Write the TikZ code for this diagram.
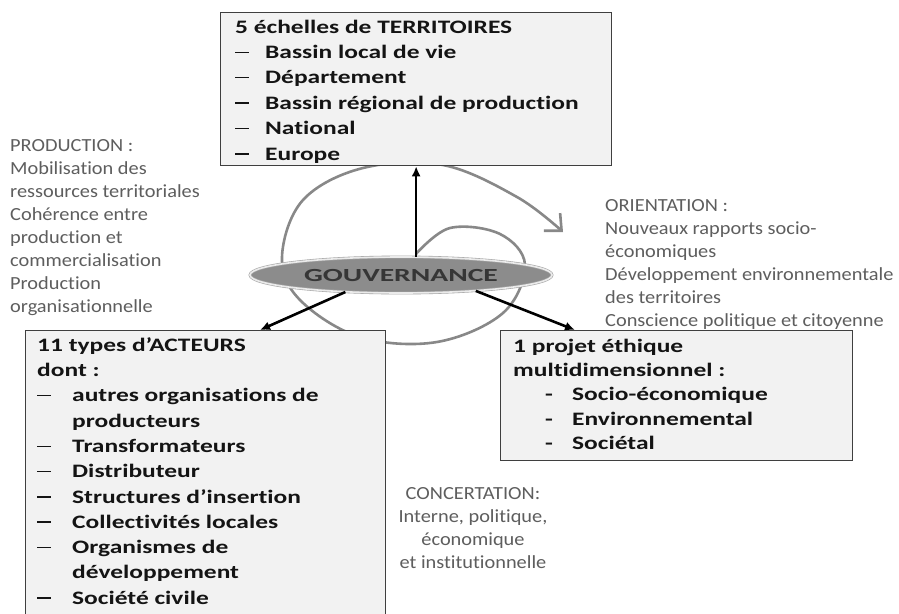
\documentclass[tikz,border=0pt]{standalone}
\usepackage{fontspec}
\setmainfont{Carlito}
\newfontfamily\boxfont[FakeStretch=1.34,Ligatures=NoCommon]{Carlito}
\newfontfamily\grayfont[FakeStretch=1.1,Ligatures=NoCommon]{Carlito}
\newfontfamily\gouvfont[FakeStretch=1.6,Ligatures=NoCommon]{Carlito}
\usetikzlibrary{arrows.meta,shapes.geometric}
\definecolor{boxfill}{HTML}{F2F2F2}
\definecolor{boxline}{HTML}{3F3F3F}
\definecolor{graytxt}{HTML}{5E5E5E}
\definecolor{spiralc}{HTML}{888888}
\definecolor{gouvfill}{HTML}{8C8C8C}
\definecolor{gouvtxt}{HTML}{363636}
\definecolor{darktxt}{HTML}{141414}
\newcommand{\dashmark}{\rule[5.5pt]{14pt}{1.4pt}}
\newcommand{\tbul}{\makebox[30pt][l]{\dashmark}}
\newcommand{\abul}{\makebox[35pt][l]{\dashmark}}
\newcommand{\aind}{\hspace*{35pt}}
\newcommand{\pbul}{\hspace*{32pt}\makebox[27pt][l]{-}}
\begin{document}
\begin{tikzpicture}[x=1pt,y=-1pt,
  box/.style={draw=boxline, fill=boxfill, line width=1.3pt, inner sep=0pt, anchor=north west},
  boxtxt/.style={anchor=north west, inner sep=0pt, align=left, text=darktxt},
  graynote/.style={inner sep=0pt, text=graytxt, font=\grayfont\fontsize{18.5}{23}\selectfont},
  arr/.style={-{Latex[length=10pt,width=9pt]}, line width=2.6pt, black},
  spiral/.style={draw=spiralc, line width=2.6pt, -{Straight Barb[length=13pt,width=24pt]}},
  gouvstyle/.style={ellipse, fill=gouvfill, draw=gray!70, double=white!92!black, double distance=1.6pt, line width=0.6pt, minimum width=302pt, minimum height=36pt, inner sep=0pt, text=gouvtxt, font=\gouvfont\bfseries\fontsize{18.5}{22}\selectfont}
]
\useasboundingbox[fill=white] (0,0) rectangle (899,613);

% spiral (behind everything)
\draw[spiral] plot[smooth, tension=0.6] coordinates {
  (416,254) (450,228) (500,234) (525,265) (503,313) (437,342) (360,337)
  (300,300) (282,257) (303,200) (363,168) (443,165) (517,197) (563,232)};

% boxes
\node[box, minimum width=391pt, minimum height=153pt] (terr) at (220,12) {};
\node[box, minimum width=360pt, minimum height=330pt] (act) at (25,330) {};
\node[box, minimum width=352pt, minimum height=130pt] (proj) at (500,330) {};

% central ellipse
\node[gouvstyle] (gouv) at (401,275) {GOUVERNANCE};

% connectors
\draw[arr] (terr.south |- gouv.north) -- (terr.south);
\draw[arr] (gouv.197) -- ([xshift=235pt]act.north west);
\draw[arr] (gouv.348) -- ([xshift=75pt]proj.north west);

% box texts
\node[boxtxt, font=\boxfont\bfseries\fontsize{19}{25.4}\selectfont] (terrtxt) at (235,15.2)
  {\strut 5 échelles de TERRITOIRES\\
   \tbul Bassin local de vie\\
   \tbul Département\\
   \tbul Bassin régional de production\\
   \tbul National\\
   \tbul Europe};

\node[boxtxt, font=\boxfont\bfseries\fontsize{19}{25.3}\selectfont] (acttxt) at (37,333.3)
  {\strut 11 types d’ACTEURS\\
   dont :\\
   \abul autres organisations de\\
   \aind producteurs\\
   \abul Transformateurs\\
   \abul Distributeur\\
   \abul Structures d’insertion\\
   \abul Collectivités locales\\
   \abul Organismes de\\
   \aind développement\\
   \abul Société civile};

\node[boxtxt, font=\boxfont\bfseries\fontsize{19}{24.3}\selectfont] (projtxt) at (513,335)
  {\strut 1 projet éthique\\
   multidimensionnel :\\
   \pbul Socio-économique\\
   \pbul Environnemental\\
   \pbul Sociétal};

% gray notes
\node[graynote, anchor=north west, align=left] (prodtxt) at (10,135)
  {\strut PRODUCTION :\\
   Mobilisation des\\
   ressources territoriales\\
   Cohérence entre\\
   production et\\
   commercialisation\\
   Production\\
   organisationnelle};

\node[graynote, anchor=north west, align=left] (orienttxt) at (605,195)
  {\strut ORIENTATION :\\
   Nouveaux rapports socio-\\
   économiques\\
   Développement environnementale\\
   des territoires\\
   Conscience politique et citoyenne};

\node[graynote, anchor=north, align=center] (concerttxt) at (473,483)
  {\strut CONCERTATION:\\
   Interne, politique,\\
   économique\\
   et institutionnelle};
\end{tikzpicture}
\end{document}
